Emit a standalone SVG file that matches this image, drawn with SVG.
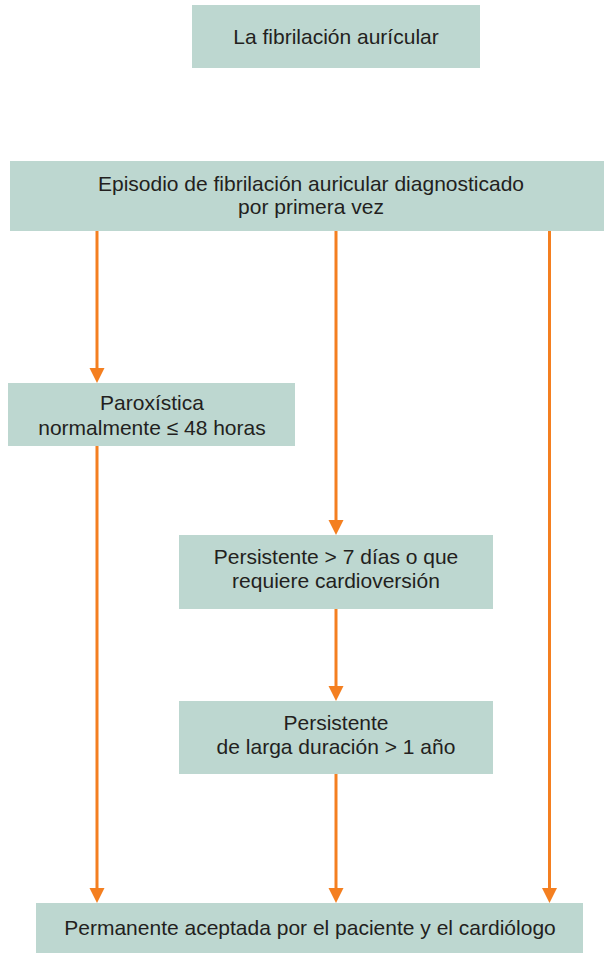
<svg xmlns="http://www.w3.org/2000/svg" width="604" height="953" viewBox="0 0 604 953">
<style>
.box{fill:#BDD7D0}
.t{font-family:"Liberation Sans",Arial,sans-serif;font-size:21px;fill:#231F20;text-anchor:middle}
.c{stroke:#F47F20;stroke-width:3;fill:none}
.h{fill:#F47F20}
</style>
<rect width="604" height="953" fill="#ffffff"/>
<g id="n-title"><rect class="box" x="192" y="5" width="288" height="63"/><text class="t" x="336" y="44">La fibrilación aurícular</text></g>
<g id="n-episodio"><rect class="box" x="10" y="161" width="594" height="70"/><text class="t" x="311" y="190.5">Episodio de fibrilación auricular diagnosticado</text><text class="t" x="311" y="214">por primera vez</text></g>
<g id="n-parox"><rect class="box" x="8" y="383" width="287" height="63"/><text class="t" x="152" y="409.5">Paroxística</text><text class="t" x="152" y="434.5">normalmente ≤ 48 horas</text></g>
<g id="n-pers"><rect class="box" x="179" y="535" width="314" height="74"/><text class="t" x="336" y="563.5">Persistente &gt; 7 días o que</text><text class="t" x="336" y="587.5">requiere cardioversión</text></g>
<g id="n-larga"><rect class="box" x="179" y="701" width="314" height="73"/><text class="t" x="336" y="729.5">Persistente</text><text class="t" x="336" y="753.5">de larga duración &gt; 1 año</text></g>
<g id="n-perm"><rect class="box" x="36" y="903" width="547" height="50"/><text class="t" x="310" y="934.5">Permanente aceptada por el paciente y el cardiólogo</text></g>
<g id="connectors">
<line class="c" x1="97" y1="231" x2="97" y2="370"/><polygon class="h" points="89.5,368 104.5,368 97,383"/>
<line class="c" x1="97" y1="446" x2="97" y2="890"/><polygon class="h" points="89.5,888 104.5,888 97,903"/>
<line class="c" x1="336" y1="231" x2="336" y2="522"/><polygon class="h" points="328.5,520 343.5,520 336,535"/>
<line class="c" x1="336" y1="609" x2="336" y2="688"/><polygon class="h" points="328.5,686 343.5,686 336,701"/>
<line class="c" x1="336" y1="774" x2="336" y2="890"/><polygon class="h" points="328.5,888 343.5,888 336,903"/>
<line class="c" x1="549.5" y1="231" x2="549.5" y2="890"/><polygon class="h" points="542,888 557,888 549.5,903"/>
</g>
</svg>
